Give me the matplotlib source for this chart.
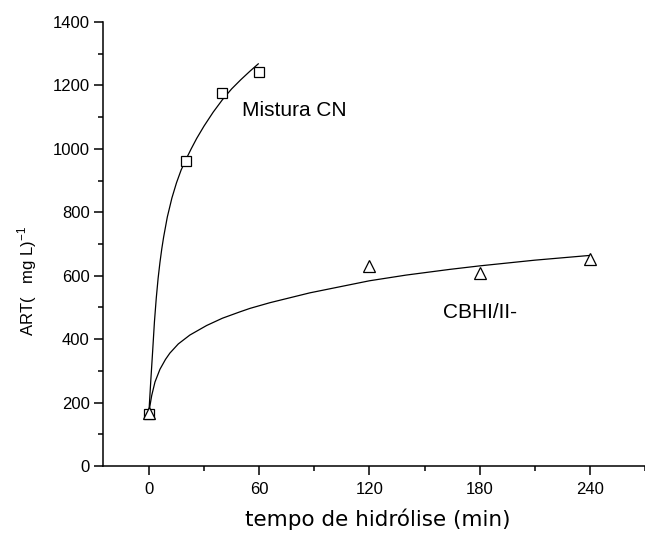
import matplotlib
matplotlib.use("Agg")
import matplotlib.pyplot as plt
from matplotlib.ticker import MultipleLocator

# Data
mix_x = [0, 20, 40, 60]
mix_y = [165, 961, 1177, 1243]
cbh_x = [0, 120, 180, 240]
cbh_y = [166, 632, 609, 653]

# fitted curves
mix_fit_x = [0, 1, 2, 3, 4, 5, 6, 7, 8, 10, 12.5, 15, 17.5, 20, 23, 26, 30, 35, 40, 45, 50, 55, 59.5]
mix_fit_y = [170, 268, 360, 455, 530, 592, 642, 685, 722, 785, 845, 893, 933, 965, 1000, 1033, 1072, 1116, 1155, 1189, 1218, 1245, 1268]
cbh_fit_x = [0, 0.5, 1.5, 3.3, 6, 9, 11.4, 16, 22.3, 31.4, 40, 49.5, 55, 65.9, 87.6, 120, 140, 163.8, 180, 210, 240]
cbh_fit_y = [168, 188, 222, 265, 305, 336, 356, 385, 413, 443, 466, 486, 497, 515, 546, 584, 602, 620, 631, 649, 664]

x_ticks = [0, 60, 120, 180, 240]
y_ticks = [0, 200, 400, 600, 800, 1000, 1200, 1400]

plt.rcParams['font.family'] = ['Liberation Sans', 'DejaVu Sans']

fig = plt.figure(figsize=(6.45, 5.35), dpi=100)
ax = fig.add_axes([103/645, 69/535, 1 - 103/645, (466-22)/535])

ax.plot(mix_fit_x, mix_fit_y, color='black', lw=0.9)
ax.plot(cbh_fit_x, cbh_fit_y, color='black', lw=0.9)
ax.plot(mix_x, mix_y, linestyle='none', marker='s', ms=6.5, mfc='white', mec='black', mew=0.9)
ax.plot(cbh_x, cbh_y, linestyle='none', marker='^', ms=8, mfc='white', mec='black', mew=0.9)

ax.set_xlim(-25, 270)
ax.set_ylim(0, 1400)
ax.set_xticks(x_ticks)
ax.set_yticks(y_ticks)
ax.xaxis.set_minor_locator(MultipleLocator(30))
ax.yaxis.set_minor_locator(MultipleLocator(100))

for s in ['top', 'right']:
    ax.spines[s].set_visible(False)
for s in ['left', 'bottom']:
    ax.spines[s].set_linewidth(1.1)

ax.tick_params(which='major', direction='out', length=6.5, width=1.1, labelsize=12, pad=5)
ax.tick_params(which='minor', direction='out', length=3.5, width=1.1)
ax.tick_params(axis='y', which='major', pad=3)

ax.text(50.5, 1103, 'Mistura CN', fontsize=15, ha='left', va='baseline')
ax.text(159.8, 467, 'CBHI/II-', fontsize=15, ha='left', va='baseline')

fig.text(378/645, 1 - 519/535, 'tempo de hidrólise (min)', fontsize=15.5,
         family=['DejaVu Sans'], ha='center', va='center')
fig.text(27/645, 1 - 281/535, r'ART(   mg L)$^{\mathregular{-1}}$', fontsize=12,
         rotation=90, ha='center', va='center')

fig.savefig('out.png', dpi=100)
